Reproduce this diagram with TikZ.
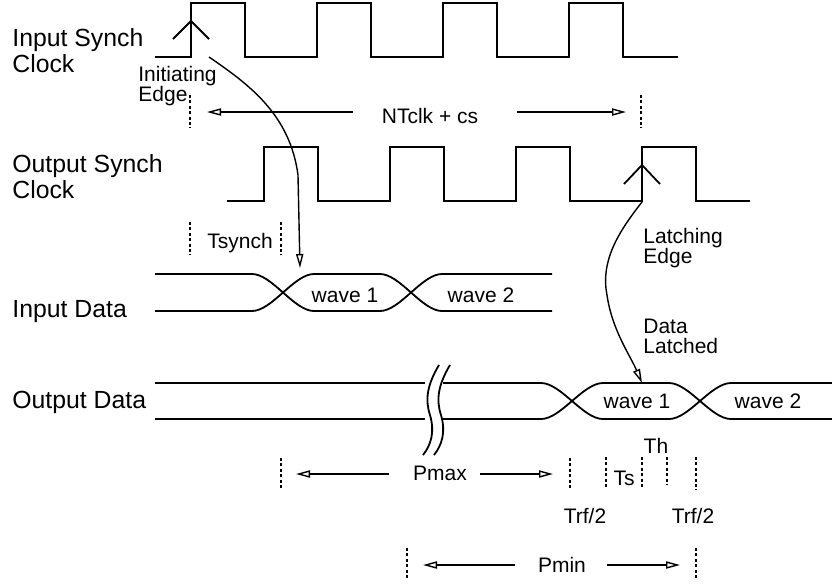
\documentclass[tikz,border=0pt]{standalone}
\usepackage{fontspec}
\setmainfont{Liberation Sans}
\usetikzlibrary{arrows.meta, positioning}

\begin{document}
\begin{tikzpicture}[
    x=0.5pt, y=-0.5pt,
    wire/.style={line width=0.9pt},
    tick/.style={line width=0.7pt, dash pattern=on 1.5pt off 1.2pt},
    dim/.style={line width=0.7pt, -{Triangle[open, length=7pt, width=3.6pt]}},
    sig/.style={font=\fontsize{12.4}{13}\selectfont, align=left, anchor=base west, inner sep=0pt},
    lbl/.style={font=\fontsize{10.5}{10}\selectfont, align=left, inner sep=0pt},
]
\useasboundingbox (0,0) rectangle (832,586);

% Signal names (base = last line)
\node[sig] (insync) at (12,72) {Input Synch\\Clock};
\node[sig] (outsync) at (12,198) {Output Synch\\Clock};
\node[sig] (indata) at (12,317) {Input Data};
\node[sig] (outdata) at (12,408) {Output Data};

% Input synch clock
\draw[wire] (155,57) \foreach \x in {191,317,443,569} {
    -- (\x,57) -- (\x,3) -- (\x+54,3) -- (\x+54,57) } -- (678,57);
\draw[wire] (173,39) -- (191,21) -- (209,39);
\coordinate (initedge) at (209,57);

% Output synch clock
\draw[wire] (227,201) \foreach \x in {264,390,516,642} {
    -- (\x,201) -- (\x,147) -- (\x+54,147) -- (\x+54,201) } -- (750,201);
\draw[wire] (624,184) -- (642,165) -- (660,184);
\coordinate (latchedge) at (642,202);

% Edge labels
\node[lbl, anchor=base west] (init) at (138,101) {Initiating\\Edge};
\node[lbl, anchor=base west] (latch) at (643,263) {Latching\\Edge};
\node[lbl, anchor=base west] (dlatch) at (643,353) {Data\\Latched};

% NTclk + cs
\node[lbl, anchor=base] (nt) at (430,123) {NTclk + cs};
\coordinate (ntL) at (353,112);
\coordinate (ntLtip) at (207,112);
\coordinate (ntR) at (517,112);
\coordinate (ntRtip) at (626,112);
\draw[dim] (ntL) -- (ntLtip);
\draw[dim] (ntR) -- (ntRtip);

% Tsynch
\node[lbl, anchor=base] (tsy) at (240,248) {Tsynch};

% Input data
\draw[wire] (155,274) -- (252,274) .. controls (272,274) and (294,311) .. (314,311)
    -- (380,311) .. controls (400,311) and (422,274) .. (442,274) -- (552,274);
\draw[wire] (155,311) -- (252,311) .. controls (272,311) and (294,274) .. (314,274)
    -- (380,274) .. controls (400,274) and (422,311) .. (442,311) -- (552,311);
\node[lbl, anchor=base] (w1a) at (345,302) {wave 1};
\node[lbl, anchor=base] (w2a) at (481,302) {wave 2};
\coordinate (indatatip) at (300,268);

% Output data
\draw[wire] (155,383) -- (425,383);
\draw[wire] (155,419) -- (425,419);
\draw[wire] (443,383) -- (541,383) .. controls (561,383) and (583,419) .. (603,419)
    -- (669,419) .. controls (689,419) and (711,383) .. (731,383) -- (832,383);
\draw[wire] (443,419) -- (541,419) .. controls (561,419) and (583,383) .. (603,383)
    -- (669,383) .. controls (689,383) and (711,419) .. (731,419) -- (832,419);
\node[lbl, anchor=base] (w1b) at (637,408) {wave 1};
\node[lbl, anchor=base] (w2b) at (768,408) {wave 2};
\coordinate (outdatatip) at (642,383);

% Break in output data
\foreach \dx in {0,11} {
    \draw[wire] (439+\dx,365) .. controls (427+\dx,385) and (425+\dx,400) .. (430+\dx,415)
        .. controls (435+\dx,432) and (431+\dx,445) .. (423+\dx,455);
}

% Initiating and latching edge arrows
\draw[dim] (initedge) .. controls (250,85) and (290,115) .. (298,175) -- (indatatip);
\draw[dim] (latchedge) .. controls (620,230) and (600,260) .. (607,295)
    .. controls (612,330) and (630,355) .. (outdatatip);

% Timing marks
\foreach \x/\ya/\yb in {190/95/128, 641/95/128, 190/222/255, 281/222/255,
    281/458/490, 570/458/490, 606/457/489, 642/457/489, 667/457/485,
    696/457/490, 407/548/580, 696/548/580} {
    \draw[tick] (\x,\ya) -- (\x,\yb);
}

% Pmax
\node[lbl, anchor=base] (pmax) at (440,480) {Pmax};
\coordinate (pmaxL) at (389,474);
\coordinate (pmaxLtip) at (296,474);
\coordinate (pmaxR) at (480,474);
\coordinate (pmaxRtip) at (553,474);
\draw[dim] (pmaxL) -- (pmaxLtip);
\draw[dim] (pmaxR) -- (pmaxRtip);

% Setup, hold, rise/fall
\node[lbl, anchor=base] (ts) at (624,485) {Ts};
\node[lbl, anchor=base] (th) at (656,453) {Th};
\node[lbl, anchor=base] (trfa) at (585,523) {Trf/2};
\node[lbl, anchor=base] (trfb) at (693,523) {Trf/2};

% Pmin
\node[lbl, anchor=base] (pmin) at (562,572) {Pmin};
\coordinate (pminL) at (515,565);
\coordinate (pminLtip) at (423,565);
\coordinate (pminR) at (607,565);
\coordinate (pminRtip) at (680,565);
\draw[dim] (pminL) -- (pminLtip);
\draw[dim] (pminR) -- (pminRtip);

\end{tikzpicture}
\end{document}
